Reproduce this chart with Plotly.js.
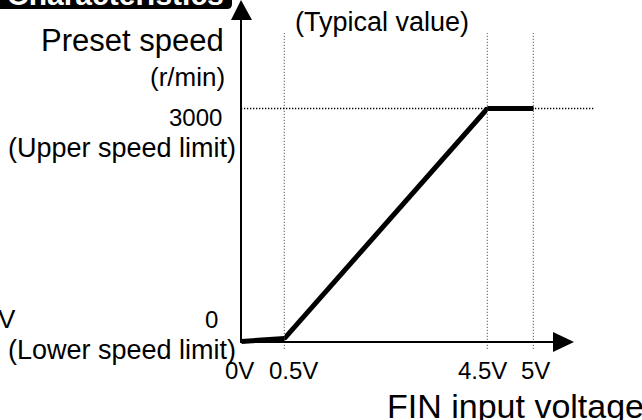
<!DOCTYPE html>
<html><head><meta charset="utf-8">
<script src="https://cdn.plot.ly/plotly-3.0.1.min.js"></script>
<style>html,body{margin:0;padding:0;background:#fff;} #chart{width:642px;height:420px;}</style>
</head><body><div id="chart"></div>
<script>
// ---- data ----
const finVoltage   = [0, 0.5, 4.5, 5];          // V
const presetSpeed  = [0, 40, 3000, 3000];       // r/min
const xTickVals    = [0, 0.5, 4.5, 5];
const xTickText    = ['0V', '0.5V', '4.5V', '5V'];
const yTickVals    = [0, 3000];
const yTickText    = ['0', '3000'];
const yTickNotes   = ['(Lower speed limit)', '(Upper speed limit)'];
const guideVoltages = [0.5, 4.5, 5];
const guideSpeeds   = [3000];

// ---- layout helpers (pixel -> paper) ----
const W = 642, H = 420;
const PX = x => x / W;
const PY = y => 1 - y / H;
const FONT = 'Liberation Sans, Arial, Helvetica, sans-serif';

// schematic (non-uniform) x scale: one axis per segment
const segEdgesPx = [241.5, 284.5, 487.5, 533.5];
const axNames = ['x', 'x2', 'x3'];
function axisOf(v) {
  for (let i = 0; i < finVoltage.length - 1; i++) {
    if (v <= finVoltage[i + 1]) return axNames[i];
  }
  return axNames[axNames.length - 1];
}

const traces = [];
for (let i = 0; i < finVoltage.length - 1; i++) {
  traces.push({
    type: 'scatter', mode: 'lines+markers',
    x: [finVoltage[i], finVoltage[i + 1]],
    y: [presetSpeed[i], presetSpeed[i + 1]],
    xaxis: axNames[i], yaxis: 'y',
    line: { color: '#000', width: 5 },
    marker: { color: '#000', size: 4 },
    hoverinfo: 'skip', showlegend: false
  });
}

// y scale: 0 -> 341.5 px, 3000 -> 108.5 px
const kY = (341.5 - 108.5) / 3000;
const layout = {
  width: W, height: H, autosize: false,
  margin: { l: 0, r: 0, t: 0, b: 0, pad: 0 },
  paper_bgcolor: '#fff', plot_bgcolor: 'rgba(0,0,0,0)',
  showlegend: false,
  yaxis: { domain: [0, 1], range: [-(H - 341.5) / kY, 341.5 / kY], visible: false, fixedrange: true },
  shapes: [], annotations: []
};
for (let i = 0; i < axNames.length; i++) {
  const key = i === 0 ? 'xaxis' : 'xaxis' + (i + 1);
  layout[key] = {
    domain: [PX(segEdgesPx[i]), PX(segEdgesPx[i + 1])],
    range: [finVoltage[i], finVoltage[i + 1]],
    anchor: 'y', visible: false, fixedrange: true
  };
}

// dotted guide lines
const dotted = { color: '#000', width: 1.3, dash: '1.3px,1.7px' };
guideVoltages.forEach(v => {
  layout.shapes.push({ type: 'line', xref: axisOf(v), yref: 'paper',
    x0: v, x1: v, y0: PY(349), y1: PY(33), line: dotted });
});
guideSpeeds.forEach(s => {
  layout.shapes.push({ type: 'line', xref: 'paper', yref: 'y',
    x0: PX(241), x1: PX(594), y0: s, y1: s, line: dotted });
});

// axes with arrows
layout.shapes.push({ type: 'line', xref: 'paper', yref: 'paper',
  x0: PX(241), x1: PX(241), y0: PY(342), y1: PY(18), line: { color: '#000', width: 2 } });
layout.shapes.push({ type: 'line', xref: 'paper', yref: 'paper',
  x0: PX(240), x1: PX(555), y0: PY(342), y1: PY(342), line: { color: '#000', width: 2 } });
layout.shapes.push({ type: 'path', xref: 'paper', yref: 'paper',
  path: `M${PX(241)},${PY(0)} L${PX(231)},${PY(20)} L${PX(252)},${PY(20)} Z`,
  fillcolor: '#000', line: { color: '#000', width: 0 } });
layout.shapes.push({ type: 'path', xref: 'paper', yref: 'paper',
  path: `M${PX(574)},${PY(342)} L${PX(553)},${PY(332)} L${PX(553)},${PY(352)} Z`,
  fillcolor: '#000', line: { color: '#000', width: 0 } });

// title box (cut at top edge)
layout.shapes.push({ type: 'path', xref: 'paper', yref: 'paper',
  path: `M${PX(-5)},${PY(-20)} L${PX(232)},${PY(-20)} L${PX(232)},${PY(4)} Q${PX(232)},${PY(9)} ${PX(227)},${PY(9)} L${PX(-5)},${PY(9)} Z`,
  fillcolor: '#000', line: { color: '#000', width: 0 }, layer: 'below' });

function txt(text, x, y, xanchor, size, extra) {
  return Object.assign({ text, xref: 'paper', yref: 'paper', x: PX(x), y: PY(y),
    xanchor, yanchor: 'middle', showarrow: false,
    font: { family: FONT, size, color: '#000' } }, extra || {});
}

layout.annotations.push(txt('<b>Characteristics</b>', 226, -6, 'right', 30, { font: { family: FONT, size: 30, color: '#fff' } }));
layout.annotations.push(txt('Preset speed', 226, 40, 'right', 31));
layout.annotations.push(txt('(r/min)', 227, 77, 'right', 26));
layout.annotations.push(txt('(Typical value)', 382, 22, 'center', 27));
layout.annotations.push(txt('V', 18, 319, 'right', 26));
layout.annotations.push(txt('FIN input voltage', 385, 406, 'left', 34));

// y tick labels + notes
const yLabelRight = [220, 224];
const yLabelShift = [22, -9];
const yNoteRight = [238, 238];
const yNoteShift = [-8, -39];
yTickVals.forEach((s, i) => {
  layout.annotations.push({ text: yTickText[i], xref: 'paper', yref: 'y', x: PX(yLabelRight[i]), y: s,
    xanchor: 'right', yanchor: 'middle', yshift: yLabelShift[i], showarrow: false,
    font: { family: FONT, size: 24, color: '#000' } });
  layout.annotations.push({ text: yTickNotes[i], xref: 'paper', yref: 'y', x: PX(yNoteRight[i]), y: s,
    xanchor: 'right', yanchor: 'middle', yshift: yNoteShift[i], showarrow: false,
    font: { family: FONT, size: 27, color: '#000' } });
});

// x tick labels
const xShift = [-2, 9, -5, 2];
xTickVals.forEach((v, i) => {
  layout.annotations.push({ text: xTickText[i], xref: axisOf(v), yref: 'paper', x: v, y: PY(370),
    xanchor: 'center', yanchor: 'middle', xshift: xShift[i], showarrow: false,
    font: { family: FONT, size: 24, color: '#000' } });
});

Plotly.newPlot('chart', traces, layout, { displayModeBar: false, staticPlot: true });
</script>
</body></html>
